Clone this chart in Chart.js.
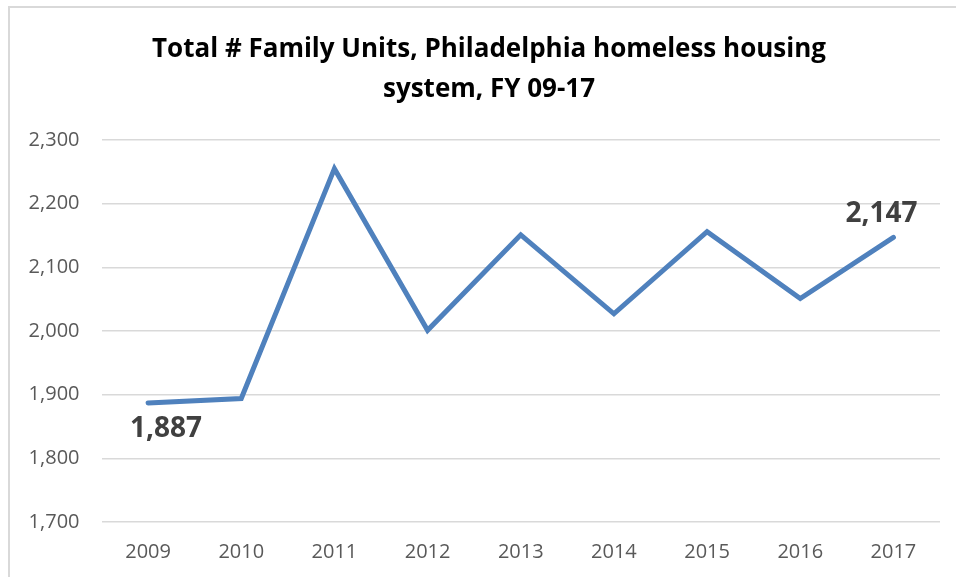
<!DOCTYPE html>
<html>
<head>
<meta charset="utf-8">
<script src="https://cdn.jsdelivr.net/npm/chart.js@4"></script>
<style>
  html, body { margin: 0; padding: 0; background: #fff; overflow: hidden; }
  #frame { position: absolute; left: 8px; top: 6px; width: 960px; height: 600px; border: 2px solid #d9d9d9; }
  #wrap { position: absolute; left: 0; top: 0; width: 956px; height: 577px; }
</style>
</head>
<body>
<div id="frame"></div>
<div id="wrap"><canvas id="chart"></canvas></div>
<script>
const years = ['2009', '2010', '2011', '2012', '2013', '2014', '2015', '2016', '2017'];
const familyUnits = [1887, 1894, 2255, 2001, 2151, 2027, 2156, 2051, 2147];
const yTicks = [1700, 1800, 1900, 2000, 2100, 2200, 2300];
const titleLines = ['Total # Family Units, Philadelphia homeless housing', 'system, FY 09-17'];

const fmt = v => v.toLocaleString('en-US');

// title drawn by hand so it can sit where Excel put it (not centred on the canvas)
const chartTitle = {
    id: 'chartTitle',
    afterDraw(chart) {
        const ctx = chart.ctx;
        ctx.save();
        ctx.font = 'bold 26px "Open Sans", sans-serif';
        ctx.fillStyle = '#000';
        ctx.textAlign = 'center';
        ctx.textBaseline = 'middle';
        titleLines.forEach((line, i) => ctx.fillText(line, 489, 50 + i * 40));
        ctx.restore();
    }
};

// labels only on first and last point, like the original
const endLabels = {
    id: 'endLabels',
    afterDatasetsDraw(chart) {
        const pts = chart.getDatasetMeta(0).data;
        const ctx = chart.ctx;
        ctx.save();
        ctx.font = 'bold 28px "Open Sans", sans-serif';
        ctx.fillStyle = '#404040';
        ctx.textAlign = 'center';
        ctx.textBaseline = 'middle';
        const first = pts[0], last = pts[pts.length - 1];
        ctx.fillText(fmt(familyUnits[0]), first.x + 18, first.y + 26);
        ctx.fillText(fmt(familyUnits[familyUnits.length - 1]), last.x - 12, last.y - 23);
        ctx.restore();
    }
};

new Chart(document.getElementById('chart'), {
    type: 'line',
    data: {
        labels: years,
        datasets: [{
            data: familyUnits,
            borderColor: '#4f81bd',
            borderWidth: 5,
            borderCapStyle: 'round',
            borderJoinStyle: 'miter',
            pointRadius: 0,
            tension: 0,
            fill: false
        }]
    },
    options: {
        responsive: true,
        maintainAspectRatio: false,
        animation: false,
        layout: { padding: { left: 0, right: 16, top: 140, bottom: 0 } },
        plugins: {
            legend: { display: false },
            tooltip: { enabled: false },
            title: { display: false }
        },
        scales: {
            x: {
                offset: true,
                grid: { display: false },
                border: { display: false },
                ticks: { color: '#595959', font: { family: '"Open Sans", sans-serif', size: 20 }, padding: 10, maxRotation: 0 },
                afterFit(scale) { scale.height = 55; }
            },
            y: {
                min: 1700,
                max: 2300,
                grid: { color: '#d9d9d9', lineWidth: 1.5, drawTicks: false },
                border: { display: false },
                afterBuildTicks(scale) { scale.ticks = yTicks.map(v => ({ value: v })); },
                ticks: {
                    color: '#595959',
                    font: { family: '"Open Sans", sans-serif', size: 20 },
                    padding: 22,
                    callback: v => fmt(v)
                },
                afterFit(scale) { scale.width = 101.5; }
            }
        }
    },
    plugins: [chartTitle, endLabels]
});
</script>
</body>
</html>
